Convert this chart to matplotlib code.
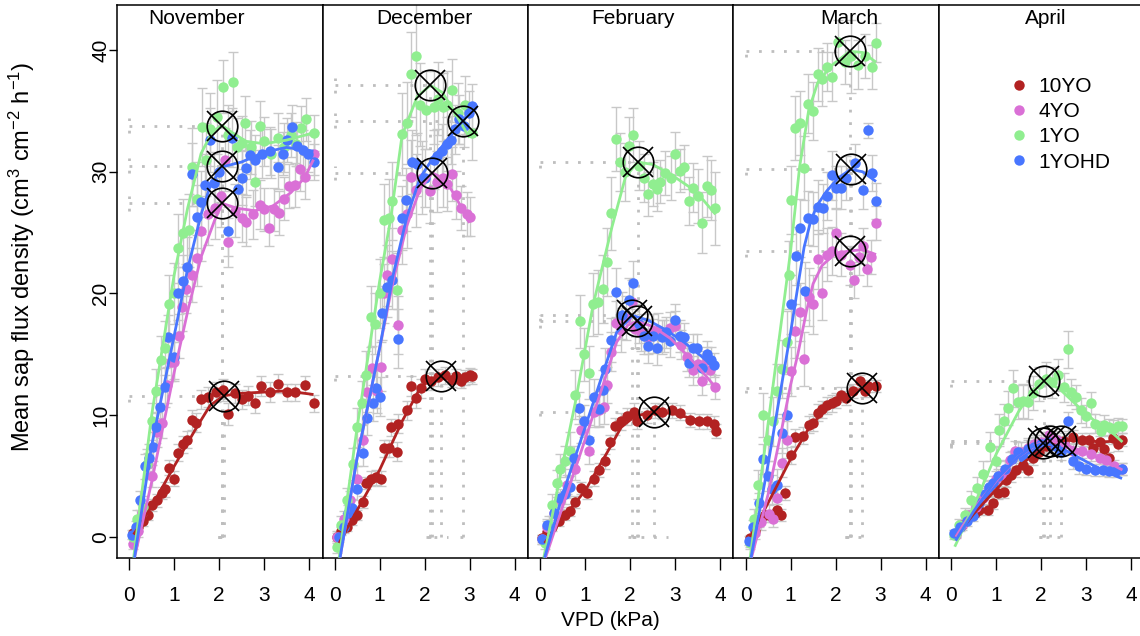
import matplotlib
matplotlib.use('Agg')
import matplotlib.pyplot as plt
from matplotlib.lines import Line2D

plt.rcParams['font.family'] = ['Liberation Sans', 'DejaVu Sans']
plt.rcParams['mathtext.fontset'] = 'custom'
plt.rcParams['mathtext.rm'] = 'Liberation Sans'
plt.rcParams['mathtext.it'] = 'Liberation Sans:italic'

months = ['November', 'December', 'February', 'March', 'April']
groups = ['10YO', '4YO', '1YO', '1YOHD']
colours = ['#B22222', '#DA70D6', '#90EE90', '#4876FF']

# binned means: (VPD kPa, sap flux density, s.e.)
nov_10yo = [(0.09,0.3,0.3),(0.2,0.8,0.3),(0.3,1.3,0.4),(0.42,1.8,0.4),(0.51,2.6,0.5),(0.62,3.0,0.5),(0.73,3.6,0.5),(0.8,3.9,0.6),(0.89,5.7,0.6),(1.0,4.8,0.6),(1.09,6.9,0.7),(1.2,7.6,0.7),(1.29,8.0,0.7),(1.4,9.6,0.8),(1.49,9.4,0.8),(1.6,11.3,0.8),(1.75,11.5,0.8),(1.93,11.9,0.8),(2.09,12.1,0.9),(2.2,10.1,0.9),(2.35,11.8,0.8),(2.51,11.3,0.8),(2.65,11.6,0.8),(2.8,11.0,0.8),(2.93,12.4,0.8),(3.13,11.9,0.8),(3.31,12.6,0.8),(3.51,11.9,0.7),(3.69,11.9,0.7),(3.91,12.5,0.7),(4.11,11.0,0.7)]
nov_4yo = [(0.09,-0.6,0.4),(0.2,0.5,0.5),(0.29,2.0,0.6),(0.42,6.0,0.9),(0.5,5.0,0.9),(0.62,8.6,1.2),(0.73,9.4,1.3),(0.85,12.5,1.5),(0.93,14.4,1.6),(1.0,14.4,1.6),(1.1,16.5,1.8),(1.18,18.9,2.0),(1.27,20.4,2.0),(1.4,21.5,2.2),(1.51,22.9,2.3),(1.6,25.1,2.4),(1.75,26.5,2.5),(1.9,27.0,2.5),(2.05,28.0,2.5),(2.13,31.0,2.6),(2.2,24.2,2.0),(2.35,26.8,2.2),(2.51,26.2,2.0),(2.6,25.9,2.0),(2.75,26.5,2.0),(2.91,27.3,2.0),(2.99,26.9,1.8),(3.11,25.4,1.5),(3.22,26.9,1.8),(3.33,26.6,1.8),(3.44,27.8,1.8),(3.56,28.8,1.8),(3.69,28.9,1.8),(3.8,30.2,1.8),(3.91,29.6,1.8),(4.11,31.5,1.8)]
nov_1yo = [(0.08,0.0,0.5),(0.18,1.5,0.7),(0.3,2.5,0.9),(0.4,6.0,1.2),(0.5,9.5,1.5),(0.6,12.0,1.8),(0.7,14.5,2.0),(0.8,15.5,2.2),(0.89,19.1,2.4),(1.0,20.0,2.5),(1.09,23.7,2.8),(1.2,25.0,2.8),(1.33,25.2,3.0),(1.4,30.4,3.2),(1.51,27.8,3.0),(1.62,33.7,3.2),(1.7,31.0,3.0),(1.8,33.5,3.0),(1.95,34.5,3.0),(2.09,37.0,2.2),(2.2,33.0,2.5),(2.31,37.4,2.4),(2.4,32.0,2.4),(2.51,32.4,2.2),(2.58,34.0,2.2),(2.7,32.0,2.2),(2.8,29.2,2.0),(2.91,33.8,2.0),(3.0,32.5,2.0),(3.15,31.5,2.0),(3.3,32.8,2.0),(3.45,32.0,2.0),(3.6,33.0,1.8),(3.7,32.3,1.8),(3.82,33.6,1.8),(3.93,34.3,1.8),(4.11,33.2,1.5)]
nov_1yohd = [(0.07,0.2,0.4),(0.15,0.8,0.5),(0.25,3.0,0.8),(0.36,5.8,1.0),(0.45,6.5,1.1),(0.53,7.4,1.2),(0.6,9.0,1.3),(0.69,10.7,1.4),(0.8,12.3,1.6),(0.87,16.4,1.8),(1.0,14.8,1.8),(1.09,20.0,2.2),(1.2,21.0,2.2),(1.29,22.2,2.4),(1.4,29.8,2.6),(1.51,26.3,2.6),(1.6,27.5,2.6),(1.69,28.9,2.6),(1.8,32.6,2.6),(1.89,29.1,2.5),(2.0,30.0,2.5),(2.2,25.1,2.0),(2.29,32.8,2.4),(2.42,28.6,2.2),(2.51,29.5,2.2),(2.6,30.3,2.2),(2.69,31.4,2.0),(2.8,31.0,2.0),(2.95,31.5,2.0),(3.13,31.7,2.0),(3.31,30.4,1.8),(3.42,31.5,1.8),(3.51,32.6,1.8),(3.62,33.7,1.8),(3.73,32.1,1.6),(3.87,31.8,1.6),(3.98,31.5,1.5),(4.11,30.8,1.5)]

dec_10yo = [(0.06,0.0,0.3),(0.15,0.5,0.3),(0.28,0.8,0.3),(0.39,1.4,0.4),(0.5,1.8,0.4),(0.62,2.9,0.5),(0.69,4.4,0.5),(0.8,4.8,0.6),(0.92,4.9,0.6),(1.02,4.8,0.6),(1.1,7.3,0.7),(1.2,7.3,0.7),(1.25,9.0,0.7),(1.39,7.0,0.8),(1.42,9.3,0.8),(1.6,10.4,0.8),(1.69,12.4,0.8),(1.8,11.4,0.8),(1.91,12.2,0.8),(2.02,13.0,0.8),(2.15,12.8,0.7),(2.3,13.1,0.7),(2.45,13.3,0.7),(2.6,12.9,0.6),(2.7,13.2,0.6),(2.8,12.8,0.6),(2.9,13.1,0.6),(3.0,13.3,0.6),(3.06,13.2,0.6)]
dec_4yo = [(0.06,0.0,0.5),(0.2,1.5,0.6),(0.35,3.0,0.8),(0.5,4.8,1.0),(0.62,8.0,1.3),(0.73,11.9,1.6),(0.84,13.9,1.8),(0.95,12.0,1.8),(1.02,14.0,2.0),(1.09,20.0,2.4),(1.17,21.5,2.5),(1.28,22.8,2.6),(1.41,17.4,2.4),(1.5,25.2,2.8),(1.6,26.5,2.8),(1.69,29.6,3.0),(1.8,28.5,3.0),(1.95,29.5,3.0),(2.13,28.4,2.6),(2.28,29.2,2.5),(2.4,29.5,2.4),(2.5,29.0,2.2),(2.62,29.8,2.2),(2.69,28.1,2.0),(2.8,27.0,1.8),(2.95,26.5,1.8),(3.02,26.3,1.6)]
dec_1yo = [(0.06,-0.8,0.5),(0.15,1.0,0.7),(0.28,3.0,1.0),(0.4,6.0,1.3),(0.5,9.0,1.6),(0.6,11.0,1.8),(0.69,13.3,2.0),(0.8,18.1,2.5),(0.9,17.5,2.5),(1.0,20.0,2.8),(1.09,26.0,3.0),(1.2,26.2,3.2),(1.28,27.6,3.2),(1.39,20.3,3.0),(1.49,33.1,3.4),(1.6,34.0,3.4),(1.7,38.0,3.5),(1.8,39.5,6.5),(1.9,35.5,3.4),(2.04,35.1,3.2),(2.2,35.3,3.0),(2.3,36.0,3.0),(2.4,35.3,2.8),(2.5,35.5,2.8),(2.62,36.7,2.6),(2.75,34.8,2.5),(2.9,35.5,2.4),(3.06,33.2,2.2)]
dec_1yohd = [(0.1,0.0,0.4),(0.2,0.8,0.5),(0.3,2.0,0.6),(0.39,2.4,0.7),(0.5,3.9,0.9),(0.62,6.9,1.1),(0.73,9.8,1.4),(0.85,11.0,1.5),(0.91,12.2,1.6),(1.0,11.5,1.6),(1.06,18.4,2.2),(1.17,20.5,2.4),(1.28,21.1,2.4),(1.41,16.3,2.4),(1.49,26.2,2.6),(1.58,27.7,2.6),(1.73,30.8,2.6),(1.84,30.6,2.6),(2.0,29.5,2.4),(2.2,31.0,2.4),(2.28,31.3,2.2),(2.39,31.7,2.2),(2.5,32.3,2.2),(2.58,32.6,2.0),(2.68,33.5,2.0),(2.76,34.3,2.0),(2.88,33.8,1.8),(2.98,34.8,1.8),(3.06,35.4,1.8)]

feb_10yo = [(0.04,-0.1,0.3),(0.15,0.4,0.3),(0.27,0.8,0.3),(0.41,1.3,0.4),(0.56,1.8,0.4),(0.67,2.1,0.4),(0.78,2.9,0.5),(0.9,4.0,0.5),(1.05,3.6,0.5),(1.19,4.8,0.6),(1.3,5.5,0.6),(1.45,6.2,0.6),(1.56,7.8,0.6),(1.67,9.1,0.7),(1.79,9.5,0.7),(1.93,9.9,0.7),(2.08,10.3,0.7),(2.16,9.5,0.6),(2.38,10.0,0.6),(2.55,10.4,0.6),(2.71,10.3,0.6),(2.93,10.4,0.6),(3.12,10.2,0.6),(3.34,9.6,0.6),(3.53,9.5,0.6),(3.71,9.5,0.6),(3.86,9.3,0.6),(3.9,8.7,0.6)]
feb_4yo = [(0.05,-0.2,0.4),(0.15,0.8,0.5),(0.3,2.0,0.6),(0.45,3.0,0.7),(0.6,4.3,0.8),(0.78,5.6,0.9),(0.9,8.8,1.1),(1.08,7.1,1.1),(1.19,10.3,1.3),(1.3,10.4,1.3),(1.41,10.7,1.4),(1.49,12.5,1.5),(1.58,15.2,1.6),(1.68,17.6,1.8),(1.8,17.0,1.8),(1.9,18.0,1.8),(2.05,19.3,1.8),(2.11,17.1,1.6),(2.25,16.8,1.5),(2.39,16.4,1.4),(2.5,16.9,1.4),(2.63,17.0,1.4),(2.75,16.5,1.3),(2.88,17.2,1.3),(3.0,17.3,1.3),(3.13,15.8,1.2),(3.26,14.8,1.2),(3.41,13.7,1.2),(3.52,14.2,1.1),(3.59,12.8,1.1),(3.7,14.5,1.1),(3.78,13.7,1.1),(3.89,12.3,1.0)]
feb_1yo = [(0.1,-0.5,0.5),(0.2,1.0,0.7),(0.27,2.6,0.9),(0.38,4.4,1.1),(0.45,5.6,1.2),(0.56,6.2,1.3),(0.67,7.1,1.5),(0.78,11.7,2.0),(0.89,17.7,2.2),(0.98,15.0,2.2),(1.09,13.5,2.2),(1.18,19.1,2.6),(1.28,19.3,2.6),(1.39,20.4,2.8),(1.48,22.6,2.8),(1.58,26.6,3.0),(1.68,32.7,2.6),(1.78,30.8,2.4),(1.89,30.0,2.4),(1.98,32.1,2.4),(2.07,33.0,2.2),(2.2,30.5,2.0),(2.3,29.5,2.0),(2.39,28.2,1.8),(2.5,29.0,1.8),(2.59,28.6,1.8),(2.67,29.2,1.8),(2.78,29.9,1.8),(2.9,29.5,1.8),(3.0,31.5,1.8),(3.11,30.1,1.8),(3.21,30.4,1.8),(3.3,27.6,2.0),(3.41,28.7,2.0),(3.52,28.0,2.2),(3.59,25.8,2.5),(3.7,28.8,2.5),(3.8,28.5,2.5),(3.89,27.0,3.0)]
feb_1yohd = [(0.04,-0.2,0.4),(0.15,1.0,0.5),(0.3,2.0,0.6),(0.45,3.2,0.7),(0.55,3.5,0.8),(0.67,4.1,0.9),(0.76,6.5,1.0),(0.86,10.6,1.3),(0.98,9.5,1.3),(1.08,8.0,1.2),(1.2,11.5,1.5),(1.3,10.5,1.5),(1.39,12.1,1.6),(1.44,13.8,1.7),(1.58,16.2,1.8),(1.68,20.1,2.0),(1.82,18.2,1.9),(1.98,19.5,1.8),(2.07,20.9,1.8),(2.2,17.5,1.6),(2.3,16.5,1.5),(2.39,15.7,1.4),(2.5,16.5,1.4),(2.59,15.5,1.4),(2.7,16.4,1.4),(2.8,16.8,1.3),(2.89,16.1,1.3),(2.99,17.8,1.3),(3.1,16.5,1.3),(3.21,16.4,1.2),(3.3,14.3,1.2),(3.4,15.5,1.2),(3.48,15.5,1.2),(3.59,13.9,1.1),(3.7,15.0,1.1),(3.8,14.5,1.1),(3.87,14.1,1.0)]

mar_10yo = [(0.1,-0.1,0.3),(0.2,0.5,0.3),(0.3,1.2,0.4),(0.43,1.8,0.4),(0.58,1.6,0.4),(0.69,2.2,0.5),(0.78,1.8,0.5),(0.87,3.6,0.6),(1.01,6.7,0.7),(1.1,8.2,0.7),(1.28,8.3,0.7),(1.41,9.2,0.7),(1.5,9.4,0.7),(1.6,10.2,0.7),(1.7,10.5,0.7),(1.8,10.8,0.7),(1.91,11.0,0.7),(2.0,11.2,0.6),(2.12,11.7,0.6),(2.24,11.4,0.6),(2.38,12.0,0.6),(2.54,12.8,0.5),(2.65,12.0,0.5),(2.73,12.4,0.5),(2.91,12.4,0.5)]
mar_4yo = [(0.1,-0.4,0.4),(0.2,0.3,0.5),(0.35,1.2,0.6),(0.52,1.9,0.7),(0.6,1.5,0.7),(0.69,3.2,0.9),(0.8,6.1,1.2),(0.91,8.0,1.5),(1.01,13.6,2.0),(1.1,16.9,2.2),(1.21,18.5,2.4),(1.3,14.6,2.2),(1.4,19.7,2.4),(1.5,19.1,2.4),(1.61,22.8,2.4),(1.7,20.0,2.2),(1.81,23.2,2.2),(1.92,23.5,2.0),(2.02,25.0,2.0),(2.12,23.2,1.8),(2.31,22.3,1.6),(2.41,21.1,1.5),(2.52,23.0,1.5),(2.61,23.9,1.5),(2.7,22.0,1.4),(2.79,23.0,1.4),(2.9,25.8,1.4)]
mar_1yo = [(0.1,-0.5,0.5),(0.19,1.5,0.8),(0.28,4.3,1.2),(0.39,10.0,1.8),(0.5,8.0,1.8),(0.6,9.5,2.0),(0.7,12.0,2.2),(0.8,13.8,2.4),(0.91,16.0,2.6),(0.96,21.5,2.8),(1.01,27.7,2.8),(1.1,33.6,2.6),(1.21,34.0,2.6),(1.3,30.3,2.6),(1.39,35.6,2.4),(1.5,35.0,2.4),(1.6,38.0,2.2),(1.7,37.6,2.2),(1.8,38.6,2.0),(1.91,37.8,2.0),(2.06,40.7,1.8),(2.2,39.0,1.8),(2.35,39.5,3.0),(2.5,38.8,2.0),(2.65,39.5,1.8),(2.8,38.6,1.8),(2.91,40.6,1.6)]
mar_1yohd = [(0.07,-0.3,0.4),(0.17,0.8,0.6),(0.3,2.8,0.8),(0.39,6.4,1.2),(0.5,5.0,1.2),(0.58,3.9,1.2),(0.69,4.3,1.3),(0.8,8.5,1.6),(0.91,10.0,1.8),(1.01,19.1,2.4),(1.11,23.1,2.4),(1.21,25.4,2.4),(1.31,20.2,2.4),(1.39,26.2,2.2),(1.5,26.1,2.2),(1.6,27.1,2.2),(1.71,27.0,2.0),(1.8,28.0,2.0),(1.91,29.7,2.0),(2.02,28.7,1.8),(2.13,28.7,1.8),(2.24,29.5,1.8),(2.44,30.7,1.6),(2.61,28.5,1.6),(2.71,33.4,0.6),(2.8,29.9,1.5),(2.91,27.6,1.5)]

apr_10yo = [(0.11,0.3,0.3),(0.25,1.0,0.3),(0.4,1.7,0.4),(0.52,2.0,0.4),(0.63,2.2,0.4),(0.81,2.2,0.4),(0.92,2.8,0.5),(1.04,3.6,0.5),(1.18,3.7,0.5),(1.22,4.7,0.6),(1.33,5.1,0.6),(1.44,5.5,0.6),(1.59,5.9,0.6),(1.7,5.5,0.6),(1.81,6.5,0.6),(1.95,7.0,0.6),(2.1,7.5,0.6),(2.3,7.8,0.6),(2.5,7.9,0.6),(2.7,8.2,0.6),(2.92,8.0,0.5),(3.07,8.0,0.5),(3.15,7.3,0.5),(3.3,7.8,0.5),(3.41,7.2,0.5),(3.52,6.5,0.5),(3.59,8.1,0.5),(3.7,7.6,0.5),(3.8,8.0,0.5)]
apr_4yo = [(0.1,0.2,0.3),(0.25,1.0,0.4),(0.4,1.8,0.4),(0.55,2.5,0.5),(0.7,3.2,0.5),(0.85,4.0,0.6),(1.0,4.8,0.6),(1.11,5.1,0.7),(1.2,5.5,0.7),(1.3,6.3,0.7),(1.41,7.1,0.8),(1.55,7.0,0.8),(1.7,7.3,0.8),(1.85,7.6,0.8),(2.0,7.8,0.8),(2.18,8.4,0.8),(2.35,8.0,0.7),(2.5,7.6,0.7),(2.7,7.1,0.6),(2.92,7.1,0.6),(3.1,6.8,0.6),(3.3,6.5,0.5),(3.44,6.3,0.5),(3.63,5.8,0.5),(3.81,5.6,0.5)]
apr_1yo = [(0.07,0.2,0.4),(0.18,1.0,0.5),(0.3,1.8,0.6),(0.45,3.0,0.8),(0.58,4.0,0.9),(0.71,5.2,1.0),(0.86,7.4,1.2),(1.0,6.2,1.2),(1.07,8.8,1.3),(1.18,9.5,1.4),(1.27,10.6,1.4),(1.38,12.2,1.5),(1.49,11.1,1.4),(1.6,11.2,1.4),(1.7,11.1,1.4),(1.82,11.8,1.4),(1.95,12.6,1.4),(2.1,13.0,1.4),(2.25,12.7,1.3),(2.37,13.3,1.3),(2.5,12.3,1.2),(2.6,15.4,1.5),(2.67,11.9,1.1),(2.78,11.5,1.0),(2.89,10.4,1.0),(3.0,9.9,0.9),(3.11,11.0,0.9),(3.21,9.3,0.8),(3.33,8.7,0.8),(3.41,9.2,0.8),(3.5,9.0,0.7),(3.59,8.9,0.7),(3.7,9.1,0.7),(3.81,9.1,0.6)]
apr_1yohd = [(0.07,0.3,0.3),(0.2,0.8,0.3),(0.35,1.3,0.4),(0.48,1.7,0.4),(0.62,2.8,0.5),(0.75,3.5,0.5),(0.85,4.1,0.6),(0.92,4.4,0.6),(1.05,5.0,0.6),(1.2,5.6,0.7),(1.35,6.4,0.7),(1.48,7.0,0.8),(1.59,6.6,0.8),(1.72,7.2,0.8),(1.85,7.4,0.8),(2.0,7.6,0.8),(2.15,7.8,0.8),(2.3,7.5,0.7),(2.45,7.0,0.7),(2.59,9.5,0.8),(2.7,6.2,0.6),(2.85,5.8,0.6),(3.0,5.6,0.5),(3.19,5.5,0.5),(3.37,5.5,0.5),(3.52,5.4,0.5),(3.67,5.4,0.5),(3.8,5.6,0.5)]

# fitted response curves: (VPD, flux)
nov_10yo_fit = [(0.1,0.2),(0.5,2.5),(1.0,5.8),(1.5,9.0),(1.8,10.8),(2.1,11.6),(2.5,11.8),(3.0,11.9),(3.5,12.0),(4.1,11.7)]
nov_4yo_fit = [(0.12,-1.7),(0.5,4.5),(1.0,13.5),(1.3,18.5),(1.6,23.0),(1.9,26.0),(2.07,27.4),(2.4,27.0),(2.8,26.8),(3.2,27.2),(3.6,28.3),(3.9,29.5),(4.1,31.0)]
nov_1yo_fit = [(0.1,-1.7),(0.5,10.0),(1.0,21.5),(1.3,27.0),(1.6,31.5),(1.85,33.3),(2.07,33.8),(2.3,33.2),(2.6,32.5),(3.0,32.3),(3.5,32.6),(4.1,33.2)]
nov_1yohd_fit = [(0.12,-1.7),(0.5,7.5),(1.0,16.5),(1.3,22.0),(1.6,26.5),(1.8,28.8),(2.07,30.4),(2.5,30.8),(3.0,31.6),(3.5,32.0),(4.1,31.7)]

dec_10yo_fit = [(0.1,-0.5),(0.5,2.2),(1.0,5.5),(1.5,9.5),(1.9,12.2),(2.1,12.9),(2.36,13.2),(2.7,13.1),(3.05,13.0)]
dec_4yo_fit = [(0.12,-1.7),(0.5,6.5),(1.0,15.5),(1.3,21.0),(1.6,25.5),(1.9,28.6),(2.17,29.9),(2.4,29.5),(2.6,28.5),(2.8,27.2),(3.0,25.8)]
dec_1yo_fit = [(0.1,-1.7),(0.5,9.0),(1.0,21.0),(1.24,26.0),(1.5,33.0),(1.84,36.2),(2.13,37.1),(2.4,36.5),(2.65,35.0),(3.0,32.8)]
dec_1yohd_fit = [(0.12,-1.7),(0.5,6.5),(1.0,15.5),(1.3,21.5),(1.6,26.2),(1.9,29.5),(2.2,31.2),(2.5,32.6),(2.86,34.2),(3.05,35.2)]

feb_10yo_fit = [(0.1,-0.5),(0.5,1.5),(1.0,3.8),(1.5,7.0),(1.8,9.0),(2.1,9.9),(2.54,10.3),(3.0,10.1),(3.5,9.6),(3.9,9.1)]
feb_4yo_fit = [(0.12,-1.7),(0.5,2.5),(1.0,8.0),(1.4,12.5),(1.7,16.0),(1.95,17.4),(2.15,17.7),(2.5,17.3),(2.9,16.3),(3.3,14.8),(3.6,13.6),(3.9,12.3)]
feb_1yo_fit = [(0.08,-1.7),(0.5,6.0),(0.78,11.0),(1.18,19.1),(1.6,25.5),(1.9,29.6),(2.17,30.8),(2.5,30.6),(2.9,29.8),(3.3,28.8),(3.6,27.8),(3.9,26.5)]
feb_1yohd_fit = [(0.1,-1.7),(0.5,3.5),(1.0,9.0),(1.4,13.5),(1.7,16.8),(2.05,18.2),(2.4,17.8),(2.8,17.0),(3.2,16.0),(3.6,14.8),(3.9,13.8)]

mar_10yo_fit = [(0.1,0.0),(0.5,2.8),(1.0,6.4),(1.4,8.9),(1.8,10.6),(2.2,11.6),(2.59,12.2),(2.9,12.5)]
mar_4yo_fit = [(0.13,-1.7),(0.5,3.5),(0.8,8.8),(1.0,12.5),(1.16,15.0),(1.35,18.5),(1.5,20.8),(1.7,22.3),(2.0,23.3),(2.32,23.5),(2.6,23.6),(2.9,23.2)]
mar_1yo_fit = [(0.1,-1.7),(0.4,6.5),(0.7,15.0),(1.0,23.5),(1.2,30.4),(1.4,35.0),(1.6,37.3),(1.9,38.7),(2.32,39.9),(2.6,39.8),(2.9,39.0)]
mar_1yohd_fit = [(0.12,-1.7),(0.5,6.0),(0.8,12.5),(1.0,16.8),(1.2,21.5),(1.3,23.8),(1.45,26.0),(1.6,27.3),(1.8,28.4),(2.06,29.5),(2.34,30.2),(2.6,30.0),(2.9,29.2)]

apr_10yo_fit = [(0.1,0.0),(0.5,1.9),(1.0,3.9),(1.5,5.8),(2.0,7.2),(2.45,7.9),(2.9,8.0),(3.3,7.8),(3.8,7.9)]
apr_4yo_fit = [(0.1,0.0),(0.5,2.3),(1.0,4.6),(1.5,6.6),(1.9,7.6),(2.2,7.9),(2.6,7.5),(3.0,6.9),(3.4,6.3),(3.81,5.5)]
apr_1yo_fit = [(0.08,-0.8),(0.5,2.5),(1.0,6.8),(1.5,10.3),(1.8,12.0),(2.06,12.8),(2.4,12.2),(2.8,10.8),(3.2,9.5),(3.6,8.5),(3.81,7.8)]
apr_1yohd_fit = [(0.1,-0.3),(0.5,2.1),(1.0,4.7),(1.5,6.6),(1.8,7.4),(2.05,7.7),(2.4,7.4),(2.8,6.6),(3.2,5.8),(3.6,5.1),(3.8,4.8)]

# optimum of each curve: (VPD, flux, VPD half-CI, flux half-CI)
nov_peaks = [(2.1,11.6,0.1,0.5),(2.07,27.4,0.1,0.6),(2.07,33.8,0.1,0.6),(2.07,30.5,0.1,0.6)]
dec_peaks = [(2.36,13.2,0.15,0.4),(2.17,29.9,0.1,0.6),(2.13,37.1,0.1,0.6),(2.86,34.2,0.08,0.6)]
feb_peaks = [(2.54,10.3,0.3,0.4),(2.15,17.7,0.1,0.5),(2.17,30.8,0.1,0.5),(2.05,18.2,0.1,0.5)]
mar_peaks = [(2.59,12.2,0.1,0.4),(2.32,23.5,0.1,0.5),(2.32,39.9,0.1,0.5),(2.34,30.2,0.1,0.5)]
apr_peaks = [(2.45,7.9,0.1,0.4),(2.2,7.9,0.1,0.4),(2.06,12.8,0.1,0.5),(2.05,7.7,0.1,0.4)]

panels = [
    ([nov_10yo, nov_4yo, nov_1yo, nov_1yohd], [nov_10yo_fit, nov_4yo_fit, nov_1yo_fit, nov_1yohd_fit], nov_peaks, 1.5),
    ([dec_10yo, dec_4yo, dec_1yo, dec_1yohd], [dec_10yo_fit, dec_4yo_fit, dec_1yo_fit, dec_1yohd_fit], dec_peaks, 2.0),
    ([feb_10yo, feb_4yo, feb_1yo, feb_1yohd], [feb_10yo_fit, feb_4yo_fit, feb_1yo_fit, feb_1yohd_fit], feb_peaks, 2.07),
    ([mar_10yo, mar_4yo, mar_1yo, mar_1yohd], [mar_10yo_fit, mar_4yo_fit, mar_1yo_fit, mar_1yohd_fit], mar_peaks, 2.3),
    ([apr_10yo, apr_4yo, apr_1yo, apr_1yohd], [apr_10yo_fit, apr_4yo_fit, apr_1yo_fit, apr_1yohd_fit], apr_peaks, 2.1),
]

W, H = 1140, 636
fig = plt.figure(figsize=(W / 100, H / 100), dpi=100)
pan_left = [117, 322.5, 528, 733.5, 939]
pan_w = 205.5
pan_top, pan_bot = 5, 558

dot = (0, (1, 3.5))
grey_dot = '#BEBEBE'
fs = 15

for k, (series, fits, peaks, title_x) in enumerate(panels):
    ax = fig.add_axes([pan_left[k] / W, 1 - pan_bot / H, pan_w / W, (pan_bot - pan_top) / H])
    ax.set_xlim(-0.27, 4.3)
    ax.set_ylim(-1.73, 43.7)

    # error bars first so everything else sits on top
    for pts in series:
        xs = [p[0] for p in pts]
        ys = [p[1] for p in pts]
        se = [p[2] for p in pts]
        ax.errorbar(xs, ys, yerr=se, fmt='none', ecolor='#C8C8C8',
                    elinewidth=1.0, capsize=3.5, capthick=1.0, zorder=1)

    # guide lines from the optimum to both axes
    for px, py, xci, yci in peaks:
        kw = dict(color=grey_dot, lw=2.0, ls=dot, zorder=2)
        ax.plot([0, px], [py, py], **kw)
        ax.plot([0, 0], [py - yci, py + yci], **kw)
        ax.plot([px, px], [0, py], **kw)
        ax.plot([px - xci, px + xci], [0, 0], **kw)

    for pts, c in zip(series, colours):
        ax.plot([p[0] for p in pts], [p[1] for p in pts], 'o', color=c,
                ms=7.5, mew=0, zorder=3)

    for fit, c in zip(fits, colours):
        ax.plot([p[0] for p in fit], [p[1] for p in fit], '-', color=c,
                lw=2.0, zorder=4, solid_capstyle='butt')

    for px, py, _, _ in peaks:
        ax.plot(px, py, 'o', mfc='none', mec='black', ms=22, mew=1.2, zorder=5)
        ax.plot(px, py, 'x', color='black', ms=22, mew=1.2, zorder=5)

    ax.text(title_x, 0.975, months[k], transform=ax.get_xaxis_transform(),
            ha='center', va='center', fontsize=fs)

    for s in ax.spines.values():
        s.set_linewidth(1.1)
    ax.set_xticks([0, 1, 2, 3, 4])
    ax.tick_params(axis='x', length=8.5, width=1.0, labelsize=fs, pad=12)
    if k == 0:
        ax.set_yticks([0, 10, 20, 30, 40])
        ax.set_yticklabels(['0', '10', '20', '30', '40'], rotation=90, va='center')
        ax.tick_params(axis='y', length=6, width=1.0, labelsize=fs, pad=-1)
    else:
        ax.set_yticks([])

    if k == 4:
        handles = [Line2D([], [], ls='none', marker='o', ms=7.5, mew=0, color=c) for c in colours]
        ax.legend(handles, groups, loc='upper left', bbox_to_anchor=(0.34, 0.87),
                  frameon=False, fontsize=fs, handlelength=1.0, handletextpad=0.4,
                  labelspacing=0.3, borderpad=0, borderaxespad=0)

fig.text(22 / W, 1 - 257 / H, 'Mean sap flux density (cm$^{3}$ cm$^{-2}$ h$^{-1}$)',
         rotation=90, ha='center', va='center', fontsize=17)
fig.text(0.535, 1 - 620 / H, 'VPD (kPa)', ha='center', va='center', fontsize=fs)

fig.savefig('out.png', dpi=100)
